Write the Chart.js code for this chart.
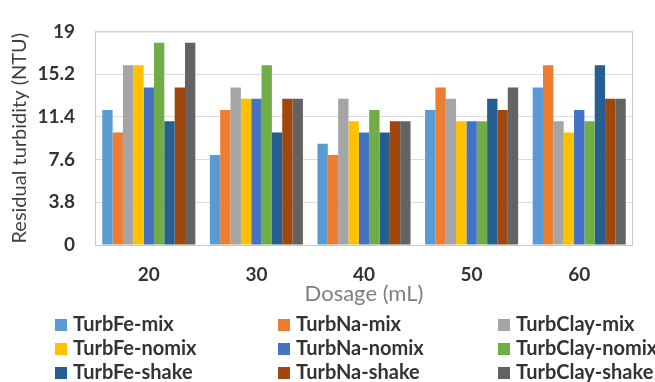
<!DOCTYPE html>
<html>
<head>
<meta charset="utf-8">
<script src="https://cdn.jsdelivr.net/npm/chart.js@4.4.1/dist/chart.umd.min.js"></script>
<style>
  html, body { margin: 0; padding: 0; background: #fff; }
  #wrap { width: 655px; height: 382px; position: relative; }
</style>
</head>
<body>
<div id="wrap"><canvas id="bar-chart"></canvas></div>
<script>
// dosages on the x axis
const categories = ['20', '30', '40', '50', '60']
const yTicks = [0, 3.8, 7.6, 11.4, 15.2, 19]

// residual turbidity (NTU) per series
const turbFeMix = [12, 8, 9, 12, 14]
const turbNaMix = [10, 12, 8, 14, 16]
const turbClayMix = [16, 14, 13, 13, 11]
const turbFeNomix = [16, 13, 11, 11, 10]
const turbNaNomix = [14, 13, 10, 11, 12]
const turbClayNomix = [18, 16, 12, 11, 11]
const turbFeShake = [11, 10, 10, 13, 16]
const turbNaShake = [14, 13, 11, 12, 13]
const turbClayShake = [18, 13, 11, 14, 13]

const seriesNames = ['TurbFe-mix', 'TurbNa-mix', 'TurbClay-mix',
    'TurbFe-nomix', 'TurbNa-nomix', 'TurbClay-nomix',
    'TurbFe-shake', 'TurbNa-shake', 'TurbClay-shake']
const seriesValues = [turbFeMix, turbNaMix, turbClayMix,
    turbFeNomix, turbNaNomix, turbClayNomix,
    turbFeShake, turbNaShake, turbClayShake]
const colors = ['#5B9BD5', '#ED7D31', '#A5A5A5', '#FFC000', '#4472C4',
    '#70AD47', '#255E91', '#9E480E', '#636363']

function getDatasets() {
    let datasets = []
    for (let i = 0; i < seriesNames.length; i++) {
        datasets.push({
            label: seriesNames[i],
            data: seriesValues[i],
            backgroundColor: colors[i],
            borderWidth: 0,
            categoryPercentage: 0.865,
            barPercentage: 1
        })
    }
    return datasets
}

// frame round the plot area + 3 column legend under the axis
const framePlugin = {
    id: 'frame',
    afterDraw(chart) {
        const ctx = chart.ctx
        const a = chart.chartArea
        ctx.save()
        ctx.strokeStyle = '#c9c9c9'
        ctx.lineWidth = 1
        ctx.strokeRect(a.left + 0.5, a.top + 0.5, a.right - a.left - 1, a.bottom - a.top)

        const colX = [55, 278, 498]
        const rowY = [325, 349, 373]
        ctx.font = 'bold 20px Lato'
        ctx.textBaseline = 'middle'
        ctx.textAlign = 'left'
        chart.data.datasets.forEach((ds, i) => {
            const x = colX[i % 3]
            const y = rowY[Math.floor(i / 3)]
            ctx.fillStyle = ds.backgroundColor
            ctx.fillRect(x, y - 6, 12, 12)
            ctx.fillStyle = '#333333'
            ctx.fillText(ds.label, x + 18, y)
        })
        ctx.restore()
    }
}

new Chart(document.getElementById('bar-chart'), {
    type: 'bar',
    data: {
        labels: categories,
        datasets: getDatasets()
    },
    options: {
        responsive: true,
        maintainAspectRatio: false,
        animation: false,
        layout: {
            padding: { left: 0, top: 22, right: 22, bottom: 72 }
        },
        plugins: {
            legend: { display: false },
            tooltip: { enabled: false }
        },
        scales: {
            x: {
                grid: { display: false, drawTicks: false },
                border: { display: false },
                ticks: {
                    padding: 18,
                    color: '#333333',
                    font: { family: 'Lato', size: 19, weight: 'bold' }
                },
                title: {
                    display: true,
                    text: 'Dosage (mL)',
                    color: '#7f7f7f',
                    padding: { top: 0, bottom: 3 },
                    font: { family: 'Lato', size: 22 }
                },
                afterFit: s => { s.height = 65 }
            },
            y: {
                min: 0,
                max: 19,
                grid: { color: '#dcdcdc', drawTicks: false },
                border: { display: false },
                afterBuildTicks: s => { s.ticks = yTicks.map(v => ({ value: v })) },
                ticks: {
                    padding: 20,
                    color: '#333333',
                    font: { family: 'Lato', size: 19, weight: 'bold' },
                    callback: v => v
                },
                title: {
                    display: true,
                    text: 'Residual turbidity (NTU)',
                    color: '#404040',
                    padding: { top: 8, bottom: 0 },
                    font: { family: 'Lato', size: 20 }
                },
                afterFit: s => { s.width = 95 }
            }
        }
    },
    plugins: [framePlugin]
})
</script>
</body>
</html>
